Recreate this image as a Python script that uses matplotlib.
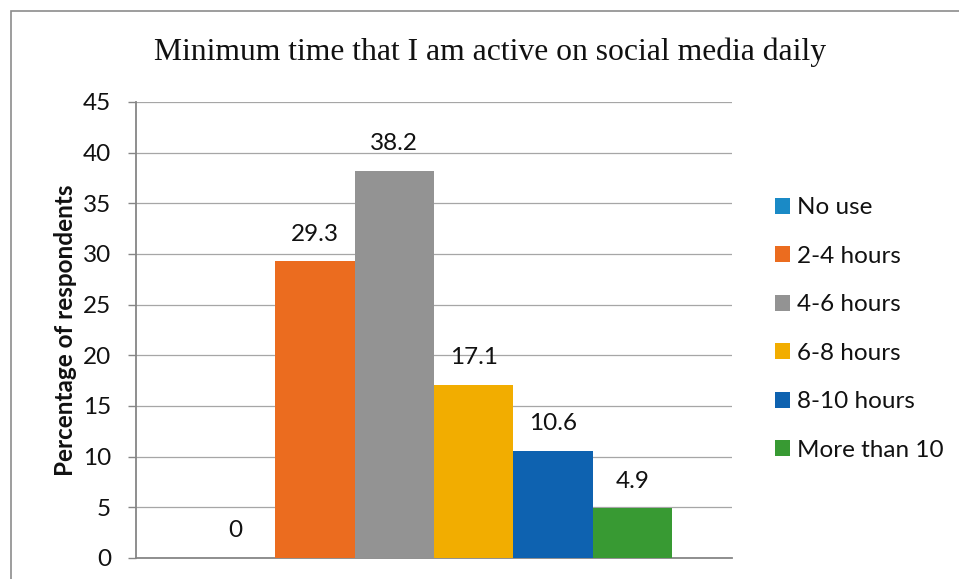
import matplotlib
matplotlib.use("Agg")
import matplotlib.pyplot as plt
from matplotlib.patches import Patch, Rectangle

# Survey answers: share of respondents per daily time band
CATEGORIES = ["No use", "2-4 hours", "4-6 hours", "6-8 hours", "8-10 hours", "More than 10"]
PERCENTAGES = [0, 29.3, 38.2, 17.1, 10.6, 4.9]
COLORS = ["#1a8ac6", "#eb6c1f", "#939393", "#f2ad00", "#0e62b0", "#389a33"]
Y_TICKS = list(range(0, 50, 5))

TITLE = "Minimum time that I am active on social media daily"
Y_LABEL = "Percentage of respondents"

plt.rcParams["font.family"] = ["Lato", "DejaVu Sans"]
TEXT = "#111111"
GRID = "#a6a6a6"
AXIS = "#868686"
FS = 17.5

W, H = 959, 579
fig = plt.figure(figsize=(W / 100, H / 100), dpi=100)
fig.patch.set_facecolor("white")

# chart frame: only the top and left edges fall inside the canvas
fig.patches.append(Rectangle((11 / W, -0.1), 1.2, 1 - 11 / H + 0.1,
                             transform=fig.transFigure, fill=False,
                             edgecolor="#8c8c8c", linewidth=1.2))

ax = fig.add_axes([136 / W, 1 - 558 / H, (732 - 136) / W, (558 - 102) / H])

# one category holding all six series, 150% gap width split on both sides
n = len(CATEGORIES)
bar_w = 1 / (n + 1.5)
xs = [bar_w * (0.75 + i + 0.5) for i in range(n)]
bars = ax.bar(xs, PERCENTAGES, width=bar_w, color=COLORS, zorder=3)

for x, v in zip(xs, PERCENTAGES):
    ax.annotate(f"{v:g}", (x, v), xytext=(0, 19.5), textcoords="offset points",
                ha="center", va="center", fontsize=FS, color=TEXT)

ax.set_xlim(0, 1)
ax.set_ylim(0, 45)
ax.set_yticks(Y_TICKS)
ax.set_yticklabels([str(t) for t in Y_TICKS], fontsize=FS, color=TEXT)
ax.set_xticks([])
ax.tick_params(axis="y", length=6, width=1.0, color=AXIS, pad=12)
ax.yaxis.grid(True, color=GRID, linewidth=0.9, zorder=0)
ax.set_axisbelow(True)

for side in ("top", "right"):
    ax.spines[side].set_visible(False)
ax.spines["left"].set_color(AXIS)
ax.spines["left"].set_linewidth(1.3)
ax.spines["bottom"].set_color(AXIS)
ax.spines["bottom"].set_linewidth(1.3)

ax.set_ylabel(Y_LABEL, fontsize=FS, fontweight="bold", color=TEXT, labelpad=4)

fig.text(490 / W, 1 - 52 / H, TITLE, ha="center", va="center",
         fontsize=22.8, family="Liberation Serif", color=TEXT)

handles = [Patch(facecolor=c, edgecolor="none") for c in COLORS]
fig.legend(handles, CATEGORIES, loc="center left",
           bbox_to_anchor=(775 / W, 1 - 329 / H), frameon=False,
           fontsize=FS, handlelength=0.62, handleheight=0.62,
           handletextpad=0.29, labelspacing=1.13, borderpad=0,
           borderaxespad=0, labelcolor=TEXT)

fig.savefig("out.png", dpi=100, facecolor="white")
